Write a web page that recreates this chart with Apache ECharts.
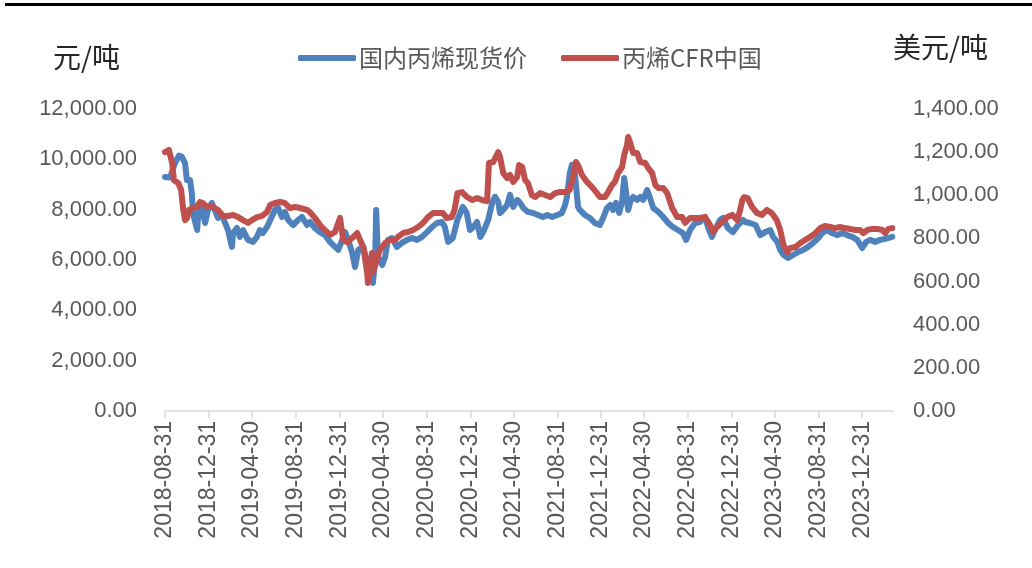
<!DOCTYPE html>
<html>
<head>
<meta charset="utf-8">
<script src="https://cdn.jsdelivr.net/npm/echarts@6/dist/echarts.min.js"></script>
<style>
  html, body { margin: 0; padding: 0; background: #fff; }
  #chart { width: 1032px; height: 568px; }
</style>
</head>
<body>
<div id="chart"></div>
<script>
// axis span and the 4-month tick dates
const startDate = "2018-08-31";
const endDate = "2024-03-26";
const tickDates = [
  "2018-08-31", "2018-12-31", "2019-04-30", "2019-08-31", "2019-12-31",
  "2020-04-30", "2020-08-31", "2020-12-31", "2021-04-30", "2021-08-31",
  "2021-12-31", "2022-04-30", "2022-08-31", "2022-12-31", "2023-04-30",
  "2023-08-31", "2023-12-31"
];

// 国内丙烯现货价 (元/吨)
const domesticDates = [
  "2018-08-31", "2018-09-14", "2018-09-28", "2018-10-09", "2018-10-17", "2018-10-26", "2018-10-31",
  "2018-11-09", "2018-11-14", "2018-11-17", "2018-11-29", "2018-12-02", "2018-12-12", "2018-12-21",
  "2018-12-29", "2019-01-09", "2019-01-17", "2019-01-26", "2019-02-06", "2019-02-15", "2019-02-23",
  "2019-03-06", "2019-03-09", "2019-03-20", "2019-03-28", "2019-04-06", "2019-04-20", "2019-05-04",
  "2019-05-15", "2019-05-23", "2019-05-31", "2019-06-12", "2019-06-21", "2019-07-04", "2019-07-13",
  "2019-07-24", "2019-08-01", "2019-08-10", "2019-08-24", "2019-09-07", "2019-09-18", "2019-10-02",
  "2019-10-10", "2019-10-24", "2019-11-07", "2019-11-21", "2019-12-05", "2019-12-19", "2019-12-28",
  "2020-01-08", "2020-01-16", "2020-01-25", "2020-02-05", "2020-02-13", "2020-02-22", "2020-03-07",
  "2020-03-18", "2020-03-27", "2020-04-03", "2020-04-09", "2020-04-12", "2020-04-17", "2020-04-29",
  "2020-05-07", "2020-05-15", "2020-05-26", "2020-06-09", "2020-06-23", "2020-07-07", "2020-07-21",
  "2020-08-04", "2020-08-18", "2020-09-01", "2020-09-15", "2020-09-29", "2020-10-13", "2020-10-21",
  "2020-10-30", "2020-11-12", "2020-11-17", "2020-11-25", "2020-12-10", "2020-12-21", "2020-12-30",
  "2021-01-08", "2021-01-19", "2021-01-28", "2021-02-05", "2021-02-19", "2021-03-02", "2021-03-10",
  "2021-03-19", "2021-03-24", "2021-04-02", "2021-04-13", "2021-04-21", "2021-04-30", "2021-05-11",
  "2021-05-19", "2021-05-28", "2021-06-10", "2021-06-24", "2021-07-08", "2021-07-22", "2021-08-03",
  "2021-08-17", "2021-08-31", "2021-09-13", "2021-09-22", "2021-09-27", "2021-10-05", "2021-10-11",
  "2021-10-19", "2021-10-28", "2021-11-02", "2021-11-16", "2021-11-30", "2021-12-14", "2021-12-28",
  "2022-01-06", "2022-01-17", "2022-01-26", "2022-02-03", "2022-02-11", "2022-02-20", "2022-02-28",
  "2022-03-06", "2022-03-11", "2022-03-17", "2022-03-23", "2022-03-31", "2022-04-11", "2022-04-20",
  "2022-04-28", "2022-05-09", "2022-05-17", "2022-05-26", "2022-06-09", "2022-06-23", "2022-07-07",
  "2022-07-20", "2022-08-03", "2022-08-17", "2022-08-26", "2022-09-06", "2022-09-20", "2022-10-04",
  "2022-10-18", "2022-10-26", "2022-11-06", "2022-11-17", "2022-11-29", "2022-12-07", "2022-12-21",
  "2023-01-04", "2023-01-18", "2023-02-01", "2023-02-07", "2023-02-20", "2023-03-08", "2023-03-21",
  "2023-04-04", "2023-04-18", "2023-04-26", "2023-05-08", "2023-05-16", "2023-05-25", "2023-06-07",
  "2023-06-21", "2023-07-05", "2023-07-19", "2023-08-02", "2023-08-16", "2023-08-30", "2023-09-10",
  "2023-09-24", "2023-10-08", "2023-10-21", "2023-11-05", "2023-11-19", "2023-12-03", "2023-12-17",
  "2023-12-31", "2024-01-11", "2024-01-22", "2024-02-05", "2024-02-19", "2024-03-04", "2024-03-24"
];
const domesticPrices = [
  9300, 9280, 9850, 10150, 10100, 9850, 9180,
  9180, 8660, 7870, 7190, 7870, 8110, 7470,
  7990, 8270, 7990, 7670, 7790, 7470, 7190,
  6520, 7070, 7270, 6920, 7190, 6800, 6720,
  6920, 7190, 7070, 7310, 7590, 7990, 8070,
  7710, 7910, 7590, 7390, 7590, 7710, 7390,
  7510, 7270, 7110, 6990, 6720, 6520, 6400,
  6800, 7110, 6800, 6280, 5720, 6400, 6520,
  5880, 5330, 5090, 6000, 7990, 6120, 5800,
  6120, 6800, 6870, 6520, 6680, 6800, 6870,
  6800, 6920, 7110, 7310, 7470, 7510, 7310,
  6720, 6870, 6920, 7590, 8110, 7870, 7190,
  7310, 7510, 6920, 7110, 7590, 8270, 8510,
  8310, 7870, 7990, 8190, 8590, 8110, 8390,
  8270, 8070, 7910, 7870, 7790, 7710, 7790,
  7710, 7790, 7870, 8190, 8510, 9460, 9780,
  9460, 8110, 7990, 7790, 7670, 7470, 7390,
  7670, 8070, 8190, 7990, 8270, 7870, 8310,
  9260, 8700, 7990, 8310, 8510, 8390, 8510,
  8390, 8780, 8470, 8070, 7910, 7710, 7470,
  7310, 7190, 7070, 6800, 7190, 7470, 7510,
  7710, 7310, 6920, 7270, 7590, 7670, 7270,
  7110, 7390, 7590, 7510, 7470, 7390, 6990,
  7110, 7190, 6920, 6720, 6400, 6200, 6080,
  6200, 6320, 6400, 6520, 6680, 6870, 7070,
  7190, 7070, 6990, 7070, 6990, 6920, 6800,
  6480, 6720, 6800, 6720, 6800, 6840, 6920
];

// 丙烯CFR中国 (美元/吨)
const cfrDates = [
  "2018-08-31", "2018-09-11", "2018-09-20", "2018-09-25", "2018-10-07", "2018-10-15", "2018-10-21",
  "2018-10-26", "2018-11-01", "2018-11-06", "2018-11-17", "2018-11-28", "2018-12-07", "2018-12-15",
  "2018-12-26", "2019-01-04", "2019-01-17", "2019-01-26", "2019-02-09", "2019-02-23", "2019-03-09",
  "2019-03-23", "2019-04-06", "2019-04-20", "2019-05-01", "2019-05-15", "2019-05-29", "2019-06-12",
  "2019-06-21", "2019-07-04", "2019-07-18", "2019-08-01", "2019-08-15", "2019-08-30", "2019-09-12",
  "2019-10-02", "2019-10-10", "2019-10-24", "2019-11-07", "2019-11-21", "2019-12-05", "2019-12-19",
  "2019-12-28", "2020-01-02", "2020-01-11", "2020-01-22", "2020-02-05", "2020-02-19", "2020-02-27",
  "2020-03-07", "2020-03-18", "2020-03-20", "2020-03-31", "2020-04-03", "2020-04-14", "2020-04-22",
  "2020-05-07", "2020-05-20", "2020-06-03", "2020-06-12", "2020-06-26", "2020-07-10", "2020-07-24",
  "2020-08-07", "2020-08-21", "2020-09-04", "2020-09-18", "2020-10-02", "2020-10-15", "2020-10-26",
  "2020-11-09", "2020-11-17", "2020-11-25", "2020-12-08", "2020-12-22", "2021-01-05", "2021-01-19",
  "2021-02-02", "2021-02-16", "2021-02-21", "2021-03-05", "2021-03-19", "2021-03-24", "2021-04-02",
  "2021-04-13", "2021-04-21", "2021-04-30", "2021-05-11", "2021-05-16", "2021-05-25", "2021-06-02",
  "2021-06-10", "2021-06-21", "2021-06-30", "2021-07-14", "2021-07-28", "2021-08-11", "2021-08-25",
  "2021-09-08", "2021-09-22", "2021-10-05", "2021-10-14", "2021-10-22", "2021-10-28", "2021-11-08",
  "2021-11-22", "2021-12-06", "2021-12-20", "2021-12-28", "2022-01-11", "2022-01-20", "2022-01-31",
  "2022-02-08", "2022-02-17", "2022-02-28", "2022-03-06", "2022-03-14", "2022-03-17", "2022-03-23",
  "2022-03-31", "2022-04-11", "2022-04-20", "2022-05-04", "2022-05-12", "2022-05-23", "2022-06-01",
  "2022-06-09", "2022-06-23", "2022-07-04", "2022-07-18", "2022-08-01", "2022-08-15", "2022-08-23",
  "2022-09-06", "2022-09-20", "2022-10-04", "2022-10-18", "2022-11-01", "2022-11-09", "2022-11-20",
  "2022-12-05", "2022-12-19", "2023-01-02", "2023-01-16", "2023-01-24", "2023-01-30", "2023-02-04",
  "2023-02-14", "2023-02-26", "2023-03-12", "2023-03-26", "2023-04-09", "2023-04-22", "2023-05-06",
  "2023-05-16", "2023-05-25", "2023-06-05", "2023-06-13", "2023-06-27", "2023-07-11", "2023-07-25",
  "2023-08-08", "2023-08-22", "2023-09-05", "2023-09-18", "2023-10-03", "2023-10-16", "2023-10-30",
  "2023-11-13", "2023-11-27", "2023-12-11", "2023-12-25", "2024-01-03", "2024-01-14", "2024-01-28",
  "2024-02-11", "2024-02-25", "2024-03-04", "2024-03-13", "2024-03-24"
];
const cfrPrices = [
  1200, 1210, 1150, 1070, 1057, 1025, 932,
  885, 895, 932, 941, 946, 969, 964,
  946, 950, 941, 932, 904, 904, 909,
  899, 885, 872, 885, 899, 904, 922,
  955, 964, 969, 964, 941, 946, 941,
  932, 922, 895, 862, 839, 816, 830,
  872, 895, 793, 783, 802, 825, 793,
  760, 640, 593, 732, 644, 700, 746,
  779, 793, 793, 807, 825, 830, 839,
  853, 872, 899, 918, 918, 918, 895,
  899, 932, 1010, 1015, 992, 978, 987,
  978, 973, 1150, 1154, 1200, 1178, 1103,
  1080, 1094, 1062, 1085, 1140, 1131, 1071,
  1057, 1001, 992, 1010, 1001, 992, 1010,
  1015, 1015, 1025, 1085, 1154, 1140, 1094,
  1062, 1038, 1010, 992, 992, 1015, 1048,
  1062, 1103, 1131, 1187, 1233, 1270, 1242,
  1196, 1196, 1154, 1150, 1127, 1103, 1048,
  1034, 1034, 1010, 941, 899, 899, 872,
  895, 895, 895, 899, 862, 830, 853,
  876, 899, 909, 885, 932, 978, 992,
  987, 946, 918, 909, 932, 918, 885,
  839, 770, 737, 756, 760, 779, 793,
  807, 825, 848, 858, 853, 848, 853,
  848, 844, 839, 839, 825, 839, 844,
  844, 839, 825, 844, 848
];

// every calendar day on the axis
function dayList(from, to) {
  const out = [];
  let t = Date.parse(from + "T00:00:00Z");
  const end = Date.parse(to + "T00:00:00Z");
  while (t <= end) {
    out.push(new Date(t).toISOString().slice(0, 10));
    t += 86400000;
  }
  return out;
}
const days = dayList(startDate, endDate);
const dayIndex = {};
days.forEach((d, i) => { dayIndex[d] = i; });
const tickSet = new Set(tickDates);
const isTick = (i, v) => tickSet.has(v);

function pairs(dates, values) {
  return dates.map((d, i) => [dayIndex[d], values[i]]);
}

const numFont = "Liberation Sans";
const cjkFont = "Noto Sans CJK SC";
const money = v => v.toLocaleString("en-US", { minimumFractionDigits: 2, maximumFractionDigits: 2 });

const chart = echarts.init(document.getElementById("chart"));
const option = {
  animation: false,
  backgroundColor: "#fff",
  graphic: [
    { type: "rect", shape: { x: 5, y: 3, width: 1027, height: 3 }, style: { fill: "#000" } }
  ],
  legend: {
    left: 298,
    top: 46,
    padding: 0,
    itemWidth: 58,
    itemHeight: 6,
    itemGap: 34,
    icon: "roundRect",
    textStyle: { color: "#595959", fontSize: 24, fontFamily: cjkFont, padding: [0, 0, 0, -2] },
    data: ["国内丙烯现货价", "丙烯CFR中国"]
  },
  grid: { left: 165, right: 139, top: 109, bottom: 157, containLabel: false },
  xAxis: {
    type: "category",
    data: days,
    boundaryGap: false,
    axisLine: { lineStyle: { color: "#D9D9D9", width: 1.5 } },
    axisTick: { interval: isTick, length: 7, lineStyle: { color: "#D9D9D9", width: 1.5 } },
    axisLabel: {
      interval: isTick,
      rotate: 90,
      margin: 10,
      color: "#595959",
      fontSize: 23,
      fontFamily: numFont
    },
    splitLine: { show: false }
  },
  yAxis: [
    {
      type: "value",
      min: 0,
      max: 12000,
      interval: 2000,
      name: "元/吨",
      nameLocation: "end",
      nameGap: 52,
      nameTextStyle: {
        color: "#262626", fontSize: 28, fontFamily: cjkFont,
        align: "right", verticalAlign: "middle", padding: [0, 45, 0, 0]
      },
      axisLine: { show: false },
      axisTick: { show: false },
      splitLine: { show: false },
      axisLabel: { margin: 28, color: "#595959", fontSize: 22, fontFamily: numFont, formatter: money }
    },
    {
      type: "value",
      position: "right",
      min: 0,
      max: 1400,
      interval: 200,
      name: "美元/吨",
      nameLocation: "end",
      nameGap: 62,
      nameTextStyle: {
        color: "#262626", fontSize: 28, fontFamily: cjkFont,
        align: "left", verticalAlign: "middle", padding: [0, 0, 0, 0]
      },
      axisLine: { show: false },
      axisTick: { show: false },
      splitLine: { show: false },
      axisLabel: { margin: 20, color: "#595959", fontSize: 22, fontFamily: numFont, formatter: money }
    }
  ],
  series: [
    {
      name: "国内丙烯现货价",
      type: "line",
      yAxisIndex: 0,
      data: pairs(domesticDates, domesticPrices),
      showSymbol: false,
      color: "#4F81BD",
      lineStyle: { width: 6, cap: "round", join: "round" }
    },
    {
      name: "丙烯CFR中国",
      type: "line",
      yAxisIndex: 1,
      data: pairs(cfrDates, cfrPrices),
      showSymbol: false,
      color: "#C0504D",
      lineStyle: { width: 6, cap: "round", join: "round" }
    }
  ]
};
chart.setOption(option);
</script>
</body>
</html>
